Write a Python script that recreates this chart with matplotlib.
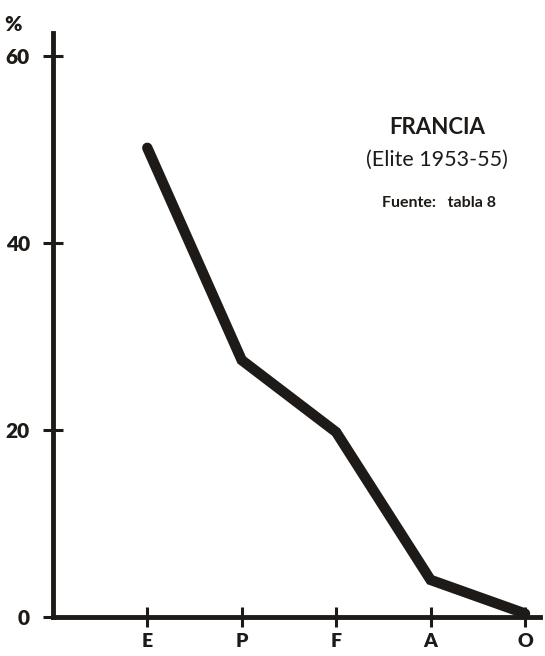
import matplotlib
matplotlib.use("Agg")
from matplotlib import pyplot as plt

categorias = ["E", "P", "F", "A", "O"]
porcentajes = [50.2, 27.5, 19.8, 4.0, 0.4]
yticks = [0, 20, 40, 60]

tinta = "#1e1a17"
plt.rcParams["font.family"] = ["Lato", "DejaVu Sans"]

fig = plt.figure(figsize=(5.45, 6.56), dpi=100)
ax = fig.add_axes([0.097, 0.059, 0.894, 0.891])

x = list(range(len(categorias)))
ax.plot(x, porcentajes, color=tinta, lw=7.5, solid_joinstyle="miter",
        solid_capstyle="round")

ax.set_xlim(-1.0, 4.16)
ax.set_ylim(0, 62.5)

for s in ["top", "right"]:
    ax.spines[s].set_visible(False)
for s in ["left", "bottom"]:
    ax.spines[s].set_linewidth(3.5)
    ax.spines[s].set_color(tinta)

ax.set_xticks(x)
ax.set_xticklabels(categorias)
ax.set_yticks(yticks)
ax.tick_params(axis="both", direction="inout", length=15, width=2.2,
               color=tinta, labelcolor=tinta)
ax.tick_params(axis="y", pad=9, labelsize=15)
ax.tick_params(axis="x", pad=4, labelsize=14)
for t in ax.get_xticklabels() + ax.get_yticklabels():
    t.set_fontweight("heavy")

fig.text(0.008, 0.962, "%", fontsize=15, fontweight="heavy", color=tinta,
         ha="left", va="center")

fig.text(0.802, 0.806, "FRANCIA", fontsize=16, fontweight="bold",
         color=tinta, ha="center", va="center")
fig.text(0.802, 0.756, "(Elite 1953-55)", fontsize=15.5, color=tinta,
         ha="center", va="center")
fig.text(0.805, 0.69, "Fuente:   tabla 8", fontsize=11.5, fontweight="bold",
         color=tinta, ha="center", va="center")

fig.savefig("out.png", dpi=100, facecolor="white")
